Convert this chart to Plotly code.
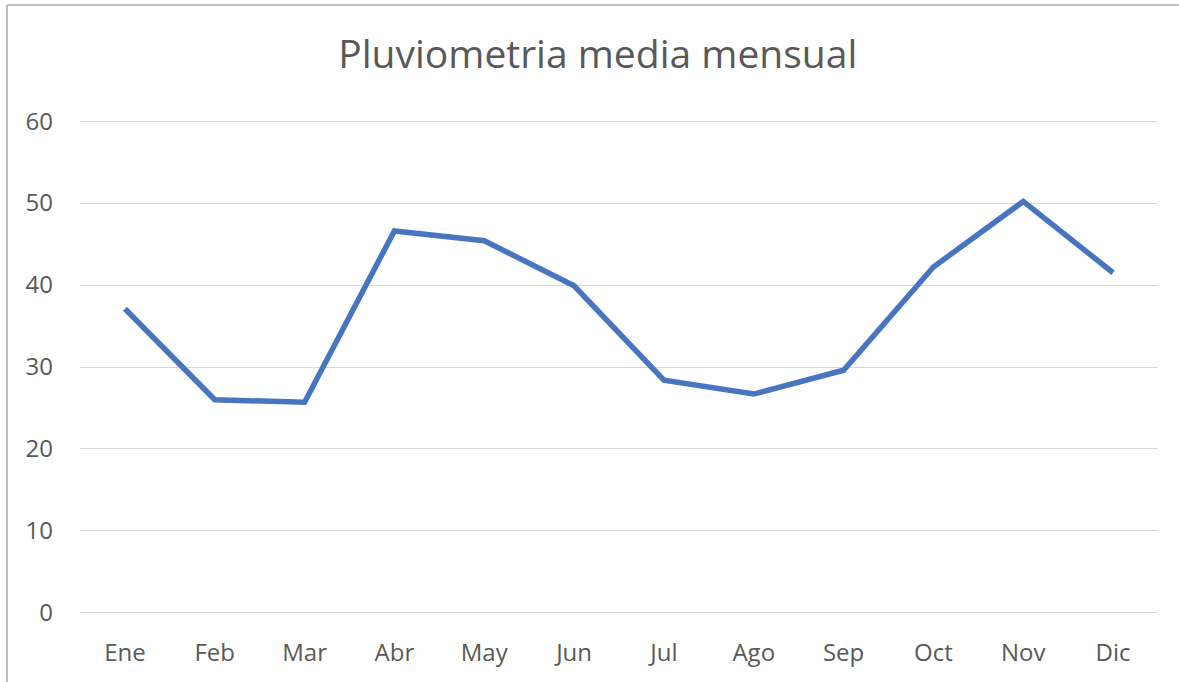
import plotly.graph_objects as go

# Monthly average rainfall
months = ["Ene", "Feb", "Mar", "Abr", "May", "Jun", "Jul", "Ago", "Sep", "Oct", "Nov", "Dic"]
rainfall = [37.1, 26.0, 25.7, 46.6, 45.4, 39.9, 28.4, 26.7, 29.6, 42.2, 50.2, 41.5]
y_ticks = [0, 10, 20, 30, 40, 50, 60]

text_color = "#595959"
font_family = "Open Sans, Noto Sans, sans-serif"

W, H = 1179, 682
ML, MR, MT, MB = 80, 21, 117, 65
PW, PH = W - ML - MR, H - MT - MB

fig = go.Figure()
fig.add_trace(go.Scatter(
    x=months,
    y=rainfall,
    mode="lines",
    line=dict(color="#4775C0", width=5.5),
    hoverinfo="x+y",
))

fig.update_layout(
    width=W,
    height=H,
    paper_bgcolor="white",
    plot_bgcolor="white",
    showlegend=False,
    margin=dict(l=ML, r=MR, t=MT, b=MB),
    title=dict(
        text="Pluviometria media mensual",
        x=0.507, xanchor="center",
        y=0.921, yanchor="middle",
        font=dict(family=font_family, size=39, color=text_color),
    ),
    xaxis=dict(
        type="category",
        range=[-0.5, 11.5],
        automargin=False,
        showgrid=False,
        zeroline=False,
        showline=False,
        ticks="",
        ticklabelstandoff=19,
        tickfont=dict(family=font_family, size=24, color=text_color),
    ),
    yaxis=dict(
        range=[-0.5, 60.5],
        tickvals=y_ticks,
        automargin=False,
        showgrid=True,
        gridcolor="#D9D9D9",
        gridwidth=1,
        zeroline=False,
        showline=False,
        ticks="",
        ticklabelstandoff=26,
        tickfont=dict(family=font_family, size=24, color=text_color),
    ),
    shapes=[
        # chart frame (top and left edges)
        dict(type="line", xref="paper", yref="paper",
             x0=(7 - ML) / PW, x1=(W + 20 - ML) / PW,
             y0=(H - MB - 5) / PH, y1=(H - MB - 5) / PH,
             line=dict(color="#BFBFBF", width=2)),
        dict(type="line", xref="paper", yref="paper",
             x0=(7 - ML) / PW, x1=(7 - ML) / PW,
             y0=-(MB + 20) / PH, y1=(H - MB - 5) / PH,
             line=dict(color="#BFBFBF", width=2)),
    ],
)

fig.write_html("out.html")
